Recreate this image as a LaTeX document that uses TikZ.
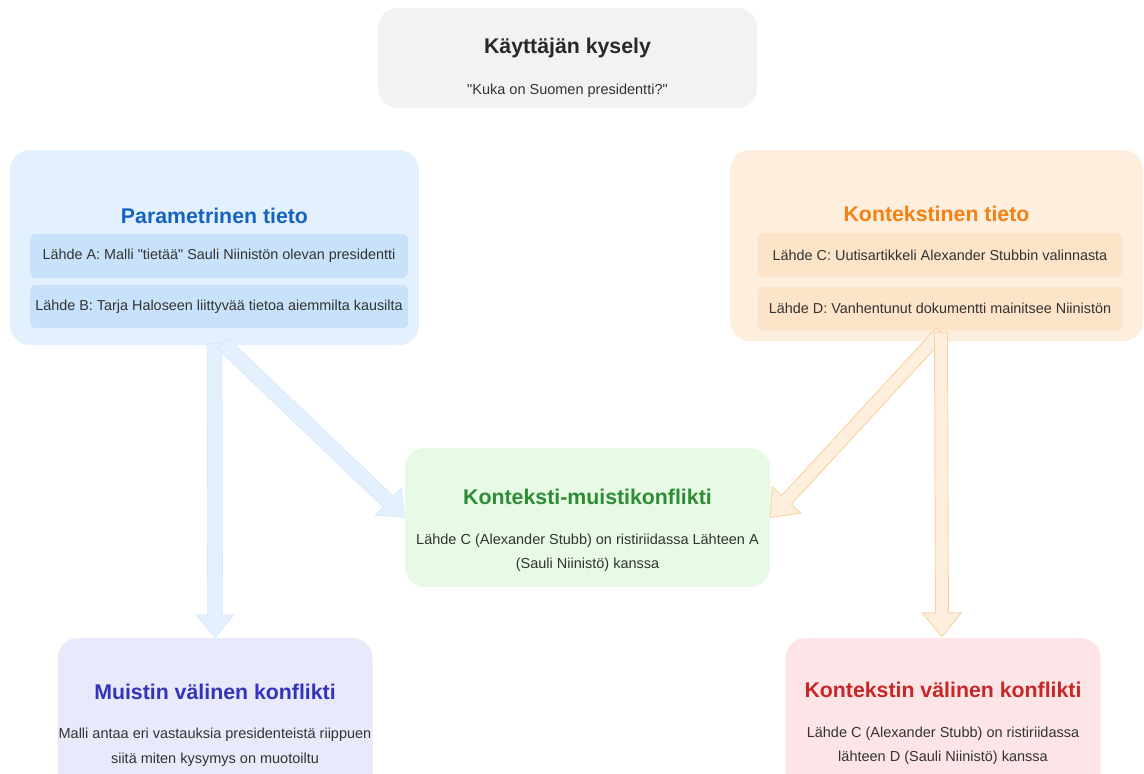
\documentclass[tikz,border=0pt]{standalone}
\usepackage{fontspec}
\setmainfont{Liberation Sans}[Ligatures=TeXOff]
\usetikzlibrary{calc}
\definecolor{qfill}{RGB}{242,242,242}
\definecolor{pfill}{RGB}{227,240,253}
\definecolor{pin}{RGB}{200,226,251}
\definecolor{ptext}{RGB}{21,101,192}
\definecolor{cfill}{RGB}{253,238,222}
\definecolor{cin}{RGB}{253,227,200}
\definecolor{ctext}{RGB}{245,128,20}
\definecolor{carrowline}{RGB}{248,212,160}
\definecolor{gfill}{RGB}{230,250,230}
\definecolor{gtext}{RGB}{46,140,52}
\definecolor{mfill}{RGB}{233,233,252}
\definecolor{mtext}{RGB}{51,51,187}
\definecolor{rfill}{RGB}{253,228,230}
\definecolor{rtext}{RGB}{198,40,40}
\definecolor{bodytext}{RGB}{51,51,51}
\definecolor{titletext}{RGB}{40,40,40}
\tikzset{
  outerbox/.style={rounded corners=20pt, inner sep=0pt},
  innerbox/.style={rounded corners=6pt, inner sep=0pt, text=bodytext, font=\fontsize{14.4}{17}\selectfont},
  titletxt/.style={font=\fontsize{21.3}{25}\selectfont\bfseries, inner sep=0pt},
  bodytxt/.style={font=\fontsize{14.5}{24.5}\selectfont, text=bodytext, align=center, inner sep=0pt},
  bluearrow/.style={fill=pfill, draw=pfill!85!blue!70, line width=0.3pt, line join=round},
  orangearrow/.style={fill=cfill, draw=carrowline, line width=0.9pt, line join=round},
}
% fat arrow: style, from, to, shaft half width, head half width, head length
\newcommand\fatarrow[6]{%
  \coordinate (fah) at ($(#3)!#6!(#2)$);
  \path[#1] ($(#2)!#4!90:(#3)$) -- ($(fah)!#4!90:(#3)$) -- ($(fah)!#5!90:(#3)$)
    -- (#3) -- ($(fah)!#5!-90:(#3)$) -- ($(fah)!#4!-90:(#3)$) -- ($(#2)!#4!-90:(#3)$) -- cycle;
}
\begin{document}
\begin{tikzpicture}[x=1pt,y=-1pt]
\useasboundingbox (0,0) rectangle (1144,774);
\clip (0,0) rectangle (1144,774);
\fill[white] (0,0) rectangle (1144,774);

% query
\node[outerbox, fill=qfill, minimum width=379pt, minimum height=100pt] (query) at (567.5,58) {};
\node[titletxt, text=titletext] (queryT) at (567.5,48) {Käyttäjän kysely};
\node[bodytxt] (queryS) at (567.5,91) {"Kuka on Suomen presidentti?"};

% parametric
\node[outerbox, fill=pfill, minimum width=409pt, minimum height=195pt] (param) at (214.5,247.5) {};
\node[titletxt, text=ptext] (paramT) at (214.5,216) {Parametrinen tieto};
\node[innerbox, fill=pin, minimum width=378pt, minimum height=44pt] (srcA) at (219,256) {Lähde A: Malli "tietää" Sauli Niinistön olevan presidentti};
\node[innerbox, fill=pin, minimum width=378pt, minimum height=43pt] (srcB) at (219,306.5) {Lähde B: Tarja Haloseen liittyvää tietoa aiemmilta kausilta};

% contextual
\node[outerbox, fill=cfill, minimum width=413pt, minimum height=191pt] (ctx) at (936.5,245.5) {};
\node[titletxt, text=ctext] (ctxT) at (936.5,214) {Kontekstinen tieto};
\node[innerbox, fill=cin, minimum width=364pt, minimum height=44pt] (srcC) at (940,255) {Lähde C: Uutisartikkeli Alexander Stubbin valinnasta};
\node[innerbox, fill=cin, minimum width=364pt, minimum height=43pt] (srcD) at (940,308.5) {Lähde D: Vanhentunut dokumentti mainitsee Niinistön};

% middle conflict
\node[outerbox, fill=gfill, minimum width=365pt, minimum height=139pt] (mid) at (587.5,517.5) {};
\node[titletxt, text=gtext] (midT) at (587.5,497) {Konteksti-muistikonflikti};
\node[bodytxt] (midS) at (587.5,552.5) {Lähde C (Alexander Stubb) on ristiriidassa Lähteen A\\(Sauli Niinistö) kanssa};

% memory conflict
\node[outerbox, fill=mfill, minimum width=315pt, minimum height=160pt] (mem) at (215,718) {};
\node[titletxt, text=mtext] (memT) at (215,692) {Muistin välinen konflikti};
\node[bodytxt] (memS) at (215,747) {Malli antaa eri vastauksia presidenteistä riippuen\\siitä miten kysymys on muotoiltu};

% context conflict
\node[outerbox, fill=rfill, minimum width=315pt, minimum height=160pt] (ctxc) at (943,718) {};
\node[titletxt, text=rtext] (ctxcT) at (943,690) {Kontekstin välinen konflikti};
\node[bodytxt] (ctxcS) at (943,745.5) {Lähde C (Alexander Stubb) on ristiriidassa\\lähteen D (Sauli Niinistö) kanssa};

% arrows
\coordinate (ps) at ($(param.south)+(0,-2)$);
\coordinate (ps2) at ($(param.south)+(8,-2)$);
\coordinate (os) at ($(ctx.south)+(4.5,-9)$);
\coordinate (oe) at ($(ctxc.north)+(-1,-1)$);
\fatarrow{bluearrow}{ps}{mem.north}{7.5pt}{19pt}{23pt}
\fatarrow{bluearrow}{ps2}{mid.west}{7.5pt}{19pt}{23pt}
\fatarrow{orangearrow}{os}{mid.east}{6.5pt}{19.5pt}{24pt}
\fatarrow{orangearrow}{os}{oe}{6.5pt}{19.5pt}{24pt}
\end{tikzpicture}
\end{document}
